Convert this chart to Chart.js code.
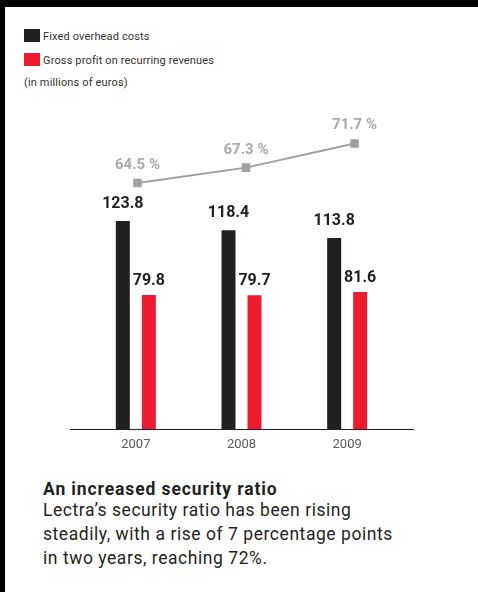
<!DOCTYPE html>
<html>
<head>
<meta charset="utf-8">
<script src="https://cdn.jsdelivr.net/npm/chart.js@4"></script>
<style>
  body { margin: 0; background: #fff; font-family: Roboto, "Liberation Sans", sans-serif; }
  #page { position: relative; width: 478px; height: 592px; overflow: hidden; background: #fff; }
  .bar-top { position: absolute; left: 0; top: 0; width: 478px; height: 7px; background: #000; }
  .bar-left { position: absolute; left: 0; top: 0; width: 5px; height: 592px; background: #000; }
  .sw { position: absolute; left: 24px; width: 16px; height: 13px; }
  .lg { position: absolute; left: 43px; font-size: 11px; line-height: 13px; color: #333; letter-spacing: 0.15px; }
  #wrap { position: absolute; left: 0; top: 100px; width: 478px; height: 360px; }
  .title { position: absolute; left: 43px; top: 479px; font-size: 17.5px; line-height: 20px; font-weight: bold; color: #231f20; letter-spacing: 0.9px; }
  .body { position: absolute; left: 43px; top: 498px; width: 430px; font-size: 17.5px; line-height: 24px; color: #231f20; letter-spacing: 0.55px; }
</style>
</head>
<body>
<div id="page">
  <div class="bar-top"></div>
  <div class="bar-left"></div>

  <div class="sw" style="top:29px;background:#231f20"></div>
  <div class="lg" style="top:30px">Fixed overhead costs</div>
  <div class="sw" style="top:53px;background:#ed1c2e"></div>
  <div class="lg" style="top:54px">Gross profit on recurring revenues</div>
  <div class="lg" style="top:76px;left:24px">(in millions of euros)</div>

  <div id="wrap"><canvas id="chart"></canvas></div>

  <div class="title">An increased security ratio</div>
  <div class="body">Lectra’s security ratio has been rising<br>steadily, with a rise of 7 percentage points<br>in two years, reaching 72%.</div>
</div>

<script>
// données
var years = ['2007', '2008', '2009'];
var fixedCosts = [123.8, 118.4, 113.8];
var grossProfit = [79.8, 79.7, 81.6];
var securityRatio = [64.5, 67.3, 71.7];

// étiquettes de valeurs
var valueLabels = {
  id: 'valueLabels',
  afterDatasetsDraw: function(chart) {
    var ctx = chart.ctx;
    ctx.save();
    ctx.textAlign = 'center';
    ctx.textBaseline = 'alphabetic';
    chart.data.datasets.forEach(function(ds, i) {
      var meta = chart.getDatasetMeta(i);
      meta.data.forEach(function(el, j) {
        if (ds.type === 'line') {
          ctx.font = 'bold 15px Roboto';
          ctx.fillStyle = '#a7a9ac';
          ctx.fillText(securityRatio[j].toFixed(1) + ' %', el.x, el.y - 14);
        } else {
          ctx.font = 'bold 16px Roboto';
          ctx.fillStyle = '#231f20';
          ctx.fillText(ds.data[j].toFixed(1), el.x, el.y - (i === 1 ? 13 : 10));
        }
      });
    });
    // ligne de l'axe, plus longue que la zone du graphique
    var a = chart.chartArea;
    ctx.strokeStyle = '#231f20';
    ctx.lineWidth = 1;
    ctx.beginPath();
    ctx.moveTo(a.left - 13, a.bottom + 0.5);
    ctx.lineTo(a.right + 14, a.bottom + 0.5);
    ctx.stroke();
    ctx.restore();
  }
};

var ctx = document.getElementById('chart').getContext('2d');
var myChart = new Chart(ctx, {
  data: {
    labels: years,
    datasets: [{
      type: 'line',
      label: 'Security ratio',
      data: securityRatio.map(function(v, i) { return { x: i, y: v }; }),
      xAxisID: 'x2',
      yAxisID: 'y2',
      borderColor: '#9d9fa2',
      backgroundColor: '#9d9fa2',
      borderWidth: 2,
      pointStyle: 'rect',
      pointRadius: 4.6,
      pointHoverRadius: 4.6,
      tension: 0,
      order: 0
    }, {
      type: 'bar',
      label: 'Fixed overhead costs',
      data: fixedCosts,
      backgroundColor: '#231f20',
      categoryPercentage: 0.984,
      barPercentage: 0.538,
      order: 1
    }, {
      type: 'bar',
      label: 'Gross profit on recurring revenues',
      data: grossProfit,
      backgroundColor: '#ed1c2e',
      categoryPercentage: 0.984,
      barPercentage: 0.538,
      order: 1
    }]
  },
  options: {
    responsive: true,
    maintainAspectRatio: false,
    animation: false,
    layout: { padding: { left: 83, right: 78, top: 20, bottom: 0 } },
    plugins: { legend: { display: false }, tooltip: { enabled: false } },
    scales: {
      x: {
        type: 'category',
        offset: true,
        grid: { display: false, drawTicks: false },
        border: { display: false },
        ticks: { color: '#58595b', font: { family: 'Roboto', size: 13 }, padding: 8 },
        afterFit: function(s) { s.height = 31; }
      },
      x2: {
        type: 'linear',
        display: false,
        min: -0.502,
        max: 2.419
      },
      y: {
        display: false,
        min: 0,
        max: 184
      },
      y2: {
        display: false,
        min: 19.66,
        max: 75.98
      }
    }
  },
  plugins: [valueLabels]
});
</script>
</body>
</html>
